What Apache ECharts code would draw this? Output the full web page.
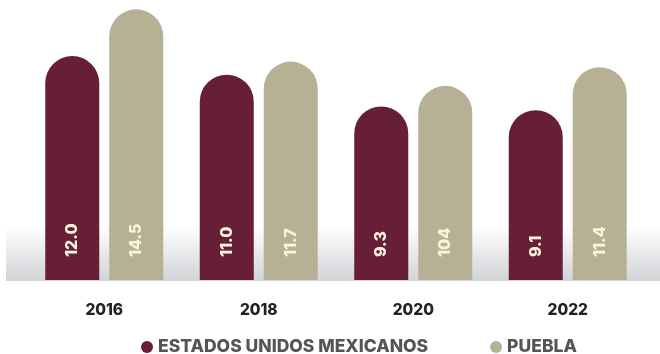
<!DOCTYPE html>
<html><head><meta charset="utf-8">
<script src="https://cdn.jsdelivr.net/npm/echarts@6/dist/echarts.min.js"></script>
<style>html,body{margin:0;padding:0;background:#fff}#c{width:660px;height:354px}</style>
</head><body><div id="c"></div>
<script>
var categories = ['2016', '2018', '2020', '2022'];
var seriesNames = ['ESTADOS UNIDOS MEXICANOS', 'PUEBLA'];
var mexicoValues = [12.0, 11.0, 9.3, 9.1];
var pueblaValues = [14.5, 11.7, 10.4, 11.4];
var mexicoLabels = ['12.0', '11.0', '9.3', '9.1'];
var pueblaLabels = ['14.5', '11.7', '104', '11.4'];

var FONT = 'Inter, "Noto Sans", sans-serif';
var chart = echarts.init(document.getElementById('c'));

function labelCfg(texts) {
  return {
    show: true, position: 'insideBottom', rotate: 90, align: 'left', verticalAlign: 'middle',
    distance: 23, color: '#fbf3dc', fontFamily: FONT, fontWeight: 800, fontSize: 16,
    formatter: function (p) { return texts[p.dataIndex]; }
  };
}

chart.setOption({
  animation: false,
  graphic: [{
    type: 'rect', z: -10, silent: true,
    shape: { x: 6, y: 226, width: 654, height: 55 },
    style: { fill: new echarts.graphic.LinearGradient(0, 0, 0, 1, [
      { offset: 0, color: 'rgba(255,255,255,1)' },
      { offset: 1, color: '#d2d3d7' }]) }
  }],
  grid: { left: 27, right: 15, top: 0, bottom: 74 },
  legend: {
    data: seriesNames, left: 136, top: 333, icon: 'circle', itemWidth: 12, itemHeight: 12,
    itemGap: 62, textStyle: { fontFamily: FONT, fontWeight: 800, fontSize: 17.5, color: '#555555' }
  },
  xAxis: {
    type: 'category', data: categories,
    axisLine: { show: false }, axisTick: { show: false },
    axisLabel: { margin: 22, fontFamily: FONT, fontWeight: 800, fontSize: 15.5, color: '#222222' }
  },
  yAxis: { type: 'value', min: 0, max: 15, show: false, splitLine: { show: false } },
  series: [
    { name: seriesNames[0], type: 'bar', data: mexicoValues, barWidth: 54, barGap: '18.5%',
      itemStyle: { color: '#671f38', borderRadius: [27, 27, 0, 0] }, label: labelCfg(mexicoLabels) },
    { name: seriesNames[1], type: 'bar', data: pueblaValues, barWidth: 54,
      itemStyle: { color: '#b6b195', borderRadius: [27, 27, 0, 0] }, label: labelCfg(pueblaLabels) }
  ]
});
</script></body></html>
